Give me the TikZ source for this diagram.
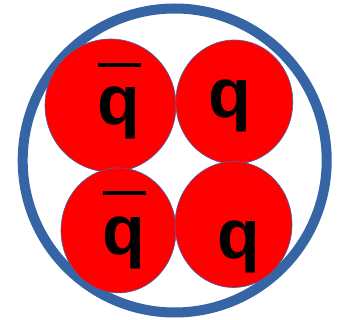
\documentclass[tikz,border=0pt]{standalone}
\usepackage{fontspec}
\setmainfont{Liberation Sans}
\usetikzlibrary{shapes.geometric}

\definecolor{ringblue}{RGB}{54,101,165}
\definecolor{edgeblue}{RGB}{68,100,170}

\begin{document}
\begin{tikzpicture}[
  x=1pt,y=-1pt,
  ring/.style={draw=ringblue,line width=10pt,circle,inner sep=0pt,minimum size=304pt},
  quark/.style={ellipse,draw=edgeblue,line width=0.6pt,fill=red,inner sep=0pt},
  flav/.style={font=\fontsize{70}{70}\selectfont\bfseries,inner sep=0pt,text=black},
  bar/.style={line width=4pt,black}
]
\useasboundingbox (0,0) rectangle (342,320);

% ---- inelul exterior ----
\node[ring] (meson) at (174.7,160.5) {};

% ---- cele patru bile ----
\node[quark,minimum width=131pt,minimum height=133pt] (qa) at (110.5,105.5) {};
\node[quark,minimum width=117pt,minimum height=124pt] (qb) at (234.3,102) {};
\node[quark,minimum width=115pt,minimum height=125pt] (qc) at (118.5,230.4) {};
\node[quark,minimum width=117pt,minimum height=126pt] (qd) at (233.5,224.5) {};

% ---- etichete ----
\node[flav] (la) at (118.5,113) {q};
\node[flav] (lb) at (230,106) {q};
\node[flav] (lc) at (124,242.5) {q};
\node[flav] (ld) at (239.3,247) {q};

% barele de anti-quark
\draw[bar] (98,65) -- (140.7,65);
\draw[bar] (103,193) -- (145.7,193);

\end{tikzpicture}
\end{document}
